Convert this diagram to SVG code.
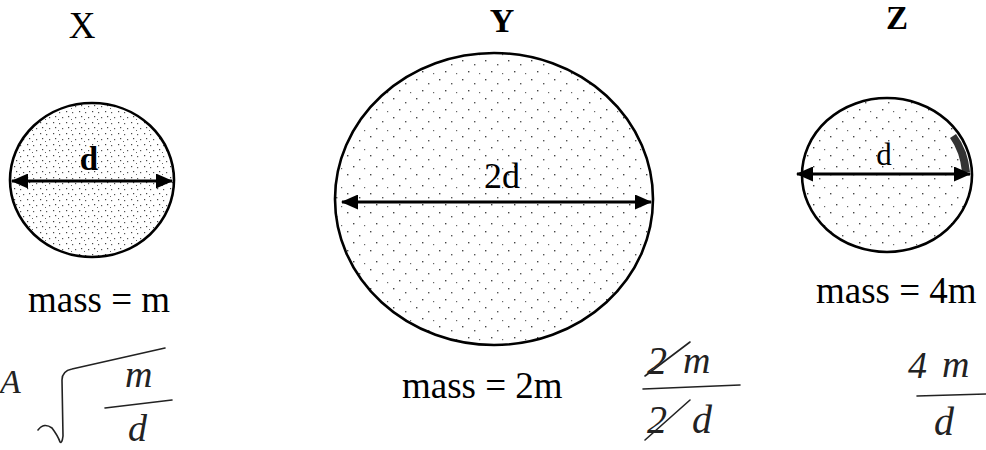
<svg xmlns="http://www.w3.org/2000/svg" width="986" height="450" viewBox="0 0 986 450">
<style>
  .ball { stroke: #000; stroke-width: 2.6; }
  .lbl { font-family: "Liberation Serif", "Times New Roman", serif; fill: #000; text-anchor: middle; }
  .mass { font-family: "Liberation Serif", "Times New Roman", serif; font-size: 37px; fill: #000; }
  .dim { stroke: #000; stroke-width: 3; fill: none; marker-start: url(#ah); marker-end: url(#ah); }
  .hand { font-family: "Liberation Serif", "Times New Roman", serif; font-style: italic; fill: #222; }
  .pen { stroke: #222; stroke-width: 1.6; fill: none; stroke-linecap: round; stroke-linejoin: round; }
</style>
<defs>
  <marker id="ah" markerUnits="userSpaceOnUse" markerWidth="17" markerHeight="15" refX="16" refY="7.5" orient="auto-start-reverse">
    <path d="M0,0 L17,7.5 L0,15 z" fill="#000"/>
  </marker>
  <pattern id="stipDense" width="13" height="11" patternUnits="userSpaceOnUse">
    <rect width="13" height="11" fill="#fff"/>
    <rect x="1" y="1" width="1.2" height="1.2" fill="#444"/>
    <rect x="7" y="2" width="1.2" height="1.2" fill="#555"/>
    <rect x="3" y="6" width="1.2" height="1.2" fill="#444"/>
    <rect x="10" y="7" width="1.2" height="1.2" fill="#555"/>
    <rect x="6" y="9" width="1" height="1" fill="#666"/>
  </pattern>
  <pattern id="stipSparse" width="23" height="19" patternUnits="userSpaceOnUse">
    <rect width="23" height="19" fill="#fff"/>
    <rect x="2" y="3" width="1.4" height="1.4" fill="#444"/>
    <rect x="14" y="7" width="1.4" height="1.4" fill="#555"/>
    <rect x="8" y="14" width="1.4" height="1.4" fill="#444"/>
    <rect x="19" y="16" width="1.2" height="1.2" fill="#666"/>
  </pattern>
</defs>

<g id="node-X">
  <ellipse class="ball" cx="92" cy="180" rx="82" ry="77" fill="url(#stipDense)"/>
  <text class="lbl" x="82" y="38" font-size="37">X</text>
  <text class="lbl" x="89" y="170" font-size="33" font-weight="bold">d</text>
  <text class="mass" x="28" y="312">mass = m</text>
</g>

<g id="node-Y">
  <ellipse class="ball" cx="494" cy="199" rx="159" ry="146" fill="url(#stipSparse)"/>
  <text class="lbl" x="502" y="32" font-size="34" font-weight="bold">Y</text>
  <text class="lbl" x="502" y="188" font-size="36">2d</text>
  <text class="mass" x="402" y="398">mass = 2m</text>
</g>

<g id="node-Z">
  <ellipse class="ball" cx="887" cy="175" rx="85" ry="77" fill="url(#stipSparse)"/>
  <path d="M956,134 Q968,150 970,172 L962,172 Q960,152 950,138 z" fill="#333"/>
  <text class="lbl" x="897" y="29" font-size="33" font-weight="bold">Z</text>
  <text class="lbl" x="884" y="165" font-size="31">d</text>
  <text class="mass" x="816" y="303">mass = 4m</text>
</g>

<g id="connectors">
  <line class="dim" x1="12" y1="181" x2="172" y2="181"/>
  <line class="dim" x1="342" y1="202" x2="651" y2="202"/>
  <line class="dim" x1="797" y1="174" x2="970" y2="174"/>
</g>

<g id="handwriting">
  <text class="hand" x="0" y="393" font-size="34">A</text>
  <path class="pen" d="M38,430 Q44,422 52,428 Q58,436 60,442 Q62,444 63,436 L62,380 Q62,371 72,369 L165,348"/>
  <text class="hand" x="125" y="387" font-size="38">m</text>
  <path class="pen" d="M105,408 L172,400"/>
  <text class="hand" x="128" y="441" font-size="38">d</text>

  <text class="hand" x="647" y="374" font-size="40">2</text>
  <text class="hand" x="683" y="373" font-size="38">m</text>
  <path class="pen" d="M645,376 L690,342"/>
  <path class="pen" d="M643,389 L740,385"/>
  <text class="hand" x="647" y="433" font-size="40">2</text>
  <text class="hand" x="692" y="433" font-size="40">d</text>
  <path class="pen" d="M645,440 L690,400"/>

  <text class="hand" x="908" y="378" font-size="38">4</text>
  <text class="hand" x="942" y="377" font-size="38">m</text>
  <path class="pen" d="M917,396 L986,394"/>
  <text class="hand" x="934" y="435" font-size="40">d</text>
</g>
</svg>
